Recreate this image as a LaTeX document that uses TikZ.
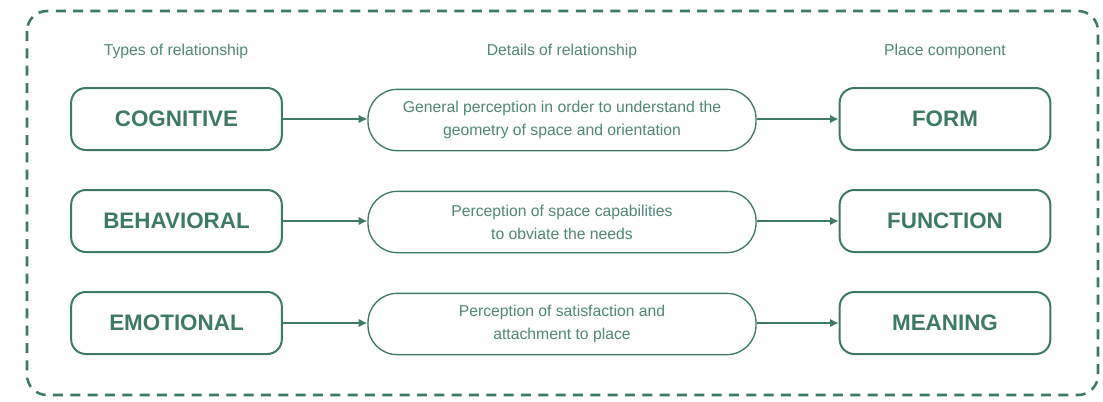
\documentclass[tikz,border=0pt]{standalone}
\usepackage{fontspec}
\setmainfont{Liberation Sans}
\usetikzlibrary{arrows.meta}
\definecolor{dgreen}{RGB}{61,122,98}
\definecolor{lgreen}{RGB}{78,135,113}
\begin{document}
\begin{tikzpicture}[x=0.75pt,y=0.75pt,yscale=-1,xscale=1,
  typebox/.style={draw=dgreen,line width=1.5pt,rounded corners=11pt,minimum width=158pt,minimum height=46.5pt,
    text=dgreen,font=\bfseries\fontsize{16.8}{19}\selectfont},
  detailbox/.style={draw=dgreen,line width=1pt,rounded corners=22pt,minimum width=291pt,minimum height=46pt,
    text=lgreen,align=center,font=\fontsize{11.8}{17.3}\selectfont},
  header/.style={text=lgreen,font=\fontsize{11.8}{14}\selectfont},
  link/.style={draw=dgreen,line width=1.8pt,-{Latex[length=6.5pt,width=6.5pt]}}]
\useasboundingbox (0,0) rectangle (1103,401);

%Frame
\draw [dgreen,line width=1.9pt,dash pattern=on 7.5pt off 5.5pt,rounded corners=15pt] (27,11) rectangle (1098,395);

% Headers
\node [header] (h1) at (176,51) {Types of relationship};
\node [header] (h2) at (562,51) {Details of relationship};
\node [header] (h3) at (945,51) {Place component};

% Types of relationship
\node [typebox] (cog) at (176.5,119) {COGNITIVE};
\node [typebox] (beh) at (176.5,221) {BEHAVIORAL};
\node [typebox] (emo) at (176.5,323) {EMOTIONAL};

% Details of relationship
\node [detailbox] (d1) at (562,120) {General perception in order to understand the\\geometry of space and orientation};
\node [detailbox] (d2) at (562,222) {Perception of space capabilities\\to obviate the needs};
\node [detailbox] (d3) at (562,324) {Perception of satisfaction and\\attachment to place};

% Place component
\node [typebox] (form) at (945,119) {FORM};
\node [typebox] (func) at (945,221) {FUNCTION};
\node [typebox] (mean) at (945,323) {MEANING};

% Arrows
\draw [link] (cog) -- (d1.west |- cog);
\draw [link] (beh) -- (d2.west |- beh);
\draw [link] (emo) -- (d3.west |- emo);
\draw [link] (d1.east |- form) -- (form);
\draw [link] (d2.east |- func) -- (func);
\draw [link] (d3.east |- mean) -- (mean);

\end{tikzpicture}
\end{document}
